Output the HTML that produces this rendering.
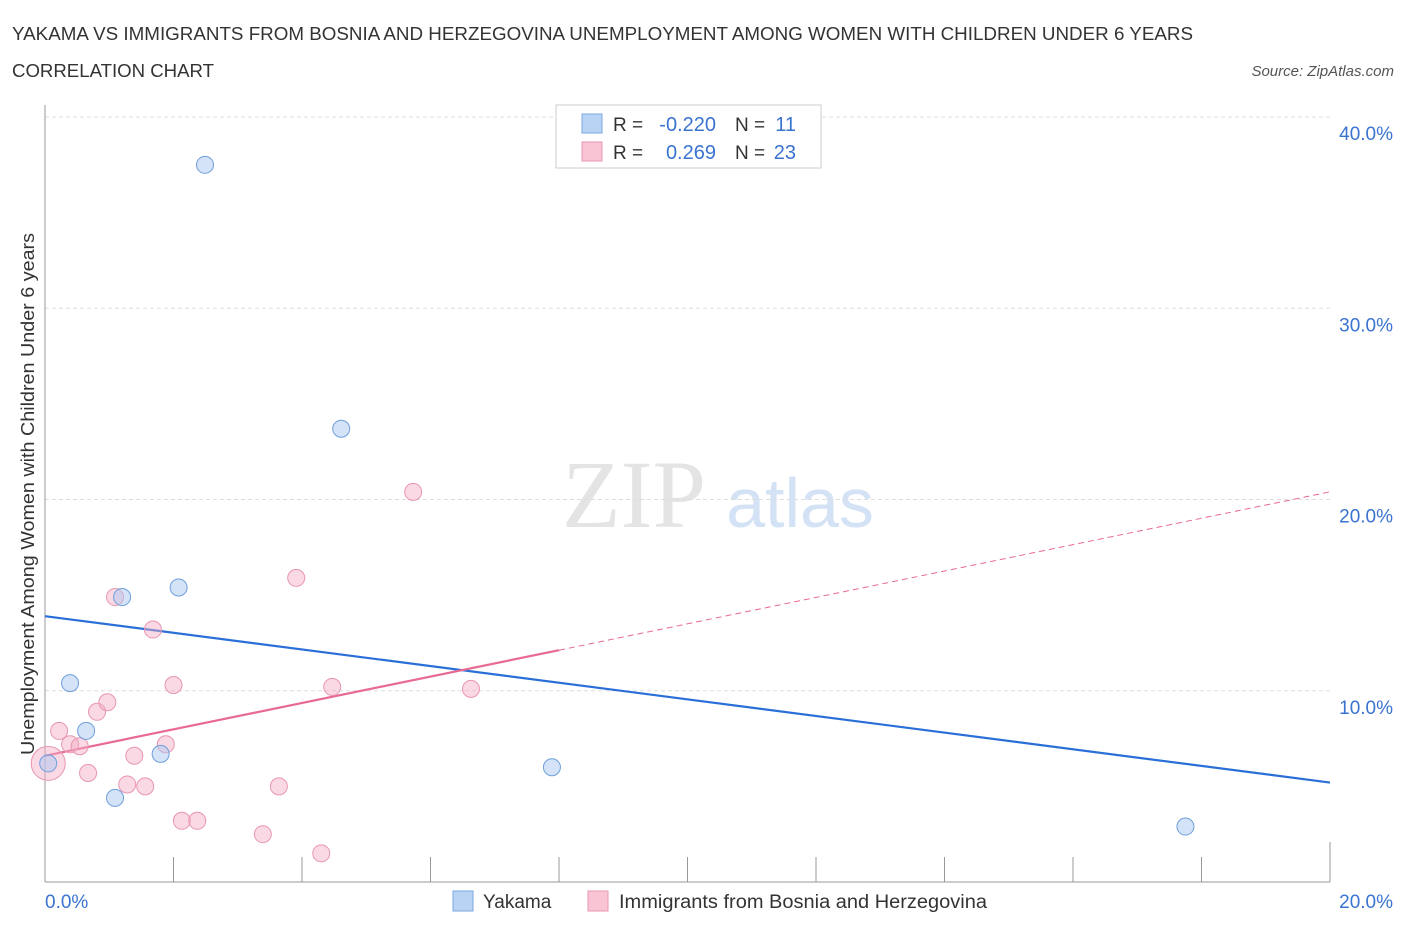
<!DOCTYPE html>
<html><head><meta charset="utf-8"><style>
body{margin:0;background:#fff;font-family:"Liberation Sans",sans-serif;}
</style></head><body>
<svg width="1406" height="930" xmlns="http://www.w3.org/2000/svg" id="chart">
<text x="12" y="40" font-size="18" fill="#333" textLength="1181" lengthAdjust="spacingAndGlyphs">YAKAMA VS IMMIGRANTS FROM BOSNIA AND HERZEGOVINA UNEMPLOYMENT AMONG WOMEN WITH CHILDREN UNDER 6 YEARS</text>
<text x="12" y="77" font-size="18" fill="#333" textLength="202" lengthAdjust="spacingAndGlyphs">CORRELATION CHART</text>
<text x="1394" y="76" font-size="15" fill="#555" font-style="italic" text-anchor="end">Source: ZipAtlas.com</text>
<text x="634" y="527" font-size="96" fill="#e4e4e4" font-family="Liberation Serif,serif" text-anchor="middle">ZIP</text>
<text x="800" y="527" font-size="70" fill="#d4e2f5" text-anchor="middle">atlas</text>
<text transform="translate(34,494) rotate(-90)" font-size="18" fill="#333" text-anchor="middle" textLength="522" lengthAdjust="spacingAndGlyphs">Unemployment Among Women with Children Under 6 years</text>
<g id="grid"></g><g id="lines"></g><g id="pts"></g>
<g>
<rect x="556" y="105" width="265" height="63" fill="#fff" stroke="#ccc"/>
<rect x="582" y="114" width="20" height="19" fill="#b9d3f5" stroke="#7aa7e0"/>
<rect x="582" y="142" width="20" height="19" fill="#f9c5d5" stroke="#e896b0"/>
<text x="613" y="131" font-size="19" fill="#333">R =</text>
<text x="716" y="131" font-size="20" fill="#3a73d0" text-anchor="end">-0.220</text>
<text x="735" y="131" font-size="19" fill="#333">N =</text>
<text x="796" y="131" font-size="20" fill="#3a73d0" text-anchor="end">11</text>
<text x="613" y="159" font-size="19" fill="#333">R =</text>
<text x="716" y="159" font-size="20" fill="#3a73d0" text-anchor="end">0.269</text>
<text x="735" y="159" font-size="19" fill="#333">N =</text>
<text x="796" y="159" font-size="20" fill="#3a73d0" text-anchor="end">23</text>
</g>
<g>
<rect x="453" y="891" width="20" height="20" fill="#b9d3f5" stroke="#7aa7e0"/>
<text x="483" y="908" font-size="19" fill="#333">Yakama</text>
<rect x="588" y="891" width="20" height="20" fill="#f9c5d5" stroke="#e896b0"/>
<text x="619" y="908" font-size="19" fill="#333" textLength="368" lengthAdjust="spacingAndGlyphs">Immigrants from Bosnia and Herzegovina</text>
</g>
</svg>
<script>
const yTicks=[10,20,30,40];
const xTickLabels=["0.0%","20.0%"];
const blueX=[2.49,4.61,2.08,1.20,0.39,0.64,1.80,0.05,1.09,7.89,17.75];
const blueY=[37.5,23.7,15.4,14.9,10.4,7.9,6.7,6.2,4.4,6.0,2.9];
const pinkX=[0.05,0.22,0.39,0.54,0.81,0.97,0.67,1.09,1.68,1.39,1.28,1.56,2.0,1.88,2.13,2.37,3.39,3.64,3.91,4.30,4.47,5.73,6.63];
const pinkY=[6.2,7.9,7.2,7.1,8.9,9.4,5.7,14.9,13.2,6.6,5.1,5.0,10.3,7.2,3.2,3.2,2.5,5.0,15.9,1.5,10.2,20.4,10.1];
const blueLine=[13.9,5.2];
const pinkLine=[6.6,20.4];
const L=45,R=1330,B=882,T=117;
const sx=v=>L+v/20*(R-L), sy=v=>B-v/40*(B-T);
const NS="http://www.w3.org/2000/svg";
function mk(t,a,p){const e=document.createElementNS(NS,t);for(const k in a)e.setAttribute(k,a[k]);document.getElementById(p).appendChild(e);return e;}
yTicks.forEach(v=>{
const g=mk("line",{x1:L,x2:R,y1:sy(v),y2:sy(v),stroke:"#ddd","stroke-dasharray":"4,3"},"grid");


const t=mk("text",{x:1393,y:sy(v)+23,"font-size":19,fill:"#3a73d0","text-anchor":"end"},"grid");t.textContent=v.toFixed(1)+"%";


});
mk("line",{x1:L,x2:L,y1:105,y2:B,stroke:"#999"},"grid");
mk("line",{x1:L,x2:R,y1:B,y2:B,stroke:"#999"},"grid");
for(let i=0;i<=10;i++){mk("line",{x1:sx(i*2),x2:sx(i*2),y1:B,y2:(i==0||i==10)?B-40:B-25,stroke:"#999"},"grid");}
xTickLabels.forEach((s,i)=>{const t=mk("text",{x:i?1393:45,y:908,"font-size":19,fill:"#3a73d0","text-anchor":i?"end":"start"},"grid");t.textContent=s;

});
const bl=mk("line",{x1:sx(0),y1:sy(blueLine[0]),x2:sx(20),y2:sy(blueLine[1]),stroke:"#2a6fd8","stroke-width":2.2},"lines");


const pf=v=>pinkLine[0]+(pinkLine[1]-pinkLine[0])*v/20;
const ps=mk("line",{x1:sx(0),y1:sy(pf(0)),x2:sx(8),y2:sy(pf(8)),stroke:"#e86a94","stroke-width":2.2},"lines");


const pd=mk("line",{x1:sx(8),y1:sy(pf(8)),x2:sx(20),y2:sy(pf(20)),stroke:"#e86a94","stroke-width":1,"stroke-dasharray":"6,4"},"lines");


pinkX.forEach((x,i)=>{const c=mk("circle",{cx:sx(x),cy:sy(pinkY[i]),r:i==0?17:8.5,fill:"rgba(245,170,195,0.45)",stroke:"#e896b0"},"pts");

});
blueX.forEach((x,i)=>{const c=mk("circle",{cx:sx(x),cy:sy(blueY[i]),r:8.5,fill:"rgba(170,200,240,0.5)",stroke:"#6f9fdc"},"pts");

});
</script>
</body></html>
